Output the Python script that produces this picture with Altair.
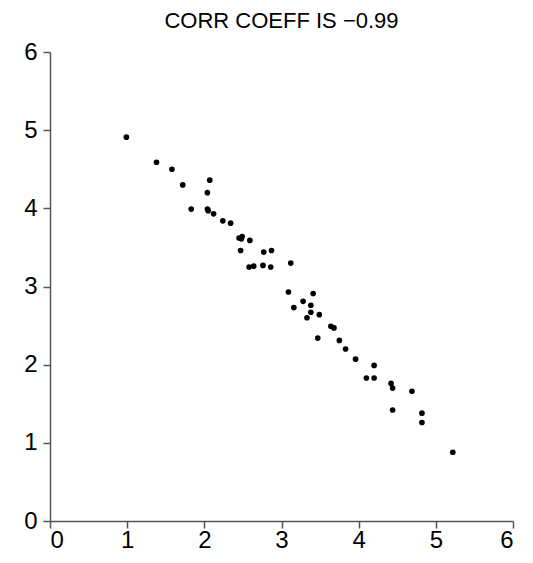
import altair as alt
import pandas as pd

xs = [0.99, 1.38, 1.58, 1.72, 2.07, 2.04, 1.83, 2.04, 2.05, 2.12, 2.24, 2.34,
      2.45, 2.49, 2.48, 2.59, 2.47, 2.77, 2.87, 2.58, 2.64, 2.76, 2.86, 3.12,
      3.09, 3.41, 3.28, 3.16, 3.38, 3.38, 3.33, 3.49, 3.64, 3.68, 3.47, 3.75,
      3.83, 3.96, 4.20, 4.10, 4.20, 4.42, 4.44, 4.69, 4.44, 4.82, 4.82, 5.22]
ys = [4.91, 4.59, 4.50, 4.30, 4.36, 4.20, 3.99, 3.99, 3.97, 3.93, 3.84, 3.81,
      3.62, 3.64, 3.61, 3.59, 3.46, 3.44, 3.46, 3.25, 3.26, 3.27, 3.25, 3.30,
      2.93, 2.91, 2.81, 2.73, 2.76, 2.67, 2.60, 2.64, 2.49, 2.47, 2.34, 2.31,
      2.20, 2.07, 1.99, 1.83, 1.83, 1.76, 1.70, 1.66, 1.42, 1.38, 1.26, 0.88]
ticks = [0, 1, 2, 3, 4, 5, 6]
title = "CORR COEFF IS \u22120.99"

df = pd.DataFrame({"x": xs, "y": ys})

axis_common = dict(
    values=ticks, grid=False, title=None,
    labelFont="Liberation Sans", labelFontSize=24, labelColor="black",
    domainColor="#555", domainWidth=1.5, tickColor="#555", tickWidth=1.5,
    tickSize=7,
)

chart = alt.Chart(df).mark_circle(size=32, color="black", opacity=1).encode(
    x=alt.X("x:Q", scale=alt.Scale(domain=[0, 6], nice=False),
            axis=alt.Axis(labelPadding=0, **axis_common)),
    y=alt.Y("y:Q", scale=alt.Scale(domain=[0, 6], nice=False),
            axis=alt.Axis(labelPadding=6, **axis_common)),
).properties(
    width=463, height=469,
    title=alt.TitleParams(title, font="Liberation Sans", fontSize=22, fontWeight="normal",
                          color="black", anchor="middle", offset=7),
    autosize=alt.AutoSizeParams(type="none"),
    padding={"left": 42, "top": 44, "right": 12, "bottom": 34},
).configure_view(stroke=None)

chart.save("out.html", embed_options={"renderer": "svg", "actions": False})
